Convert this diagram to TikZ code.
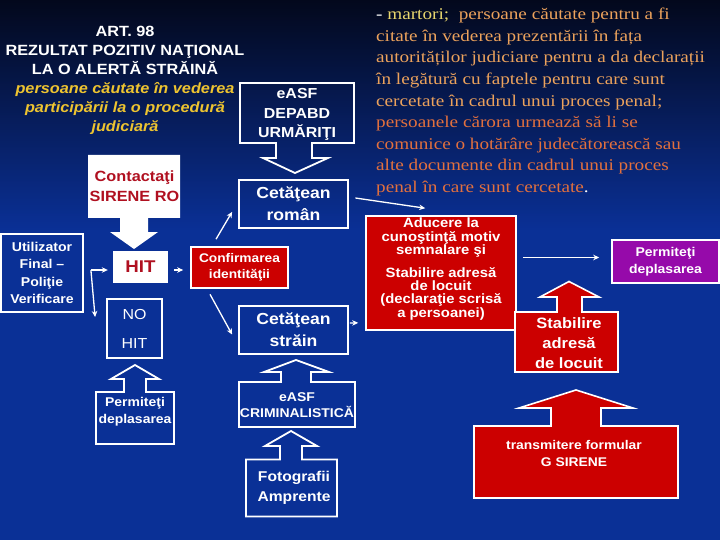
\documentclass[tikz,border=0pt]{standalone}
\usepackage{fontspec}
\setmainfont{Liberation Sans}[FakeStretch=1.1]
\newfontfamily\notefont{Liberation Serif}[FakeStretch=1.17]
\usetikzlibrary{arrows.meta,calc}
\definecolor{bgtop}{RGB}{3,8,28}
\definecolor{bgblue}{RGB}{10,48,150}
\definecolor{boxred}{RGB}{204,0,0}
\definecolor{txtred}{RGB}{176,16,32}
\definecolor{purp}{RGB}{150,10,170}
\definecolor{gold}{RGB}{238,196,48}
\definecolor{mart}{RGB}{232,214,110}
\definecolor{orL}{RGB}{236,162,92}
\definecolor{orD}{RGB}{226,112,62}
\tikzset{
  outline/.style={draw=white, line width=1.8pt, line join=miter},
  wbox/.style={outline, inner sep=0pt, align=center, text=white},
  rbox/.style={fill=boxred, draw=white, line width=1.6pt, inner sep=0pt, align=center, text=white},
  lbl/.style={align=center, text=white, inner sep=0pt},
  arr/.style={draw=white, line width=1.3pt, -{Stealth[length=6pt,width=5.5pt]}},
}
\begin{document}
\begin{tikzpicture}[x=1pt,y=-1pt]
\useasboundingbox (0,0) rectangle (720,540);
\fill[bgblue] (0,0) rectangle (720,540);
\shade[top color=bgtop, bottom color=bgblue] (0,0) rectangle (720,230);

% title
\node[lbl, font=\bfseries\fontsize{14.8}{19}\selectfont] (title) at (125,80)
  {ART. 98\\REZULTAT POZITIV NAŢIONAL\\LA O ALERTĂ STRĂINĂ\\
   \textcolor{gold}{\itshape persoane căutate în vederea}\\
   \textcolor{gold}{\itshape participării la o procedură}\\
   \textcolor{gold}{\itshape judiciară}};

% right notes
\node[anchor=west, align=left, inner sep=0pt, text=orL,
      font=\notefont\fontsize{16.4}{21.6}\selectfont] (notes) at (376,102)
  {\textcolor{white}{-} \textcolor{mart}{martori;}~ persoane căutate pentru a fi\\
   citate în vederea prezentării în fața\\
   autorităților judiciare pentru a da declarații\\
   în legătură cu faptele pentru care sunt\\
   cercetate în cadrul unui proces penal;\\
   \textcolor{orD}{persoanele cărora urmează să li se}\\
   \textcolor{orD}{comunice o hotărâre judecătorească sau}\\
   \textcolor{orD}{alte documente din cadrul unui proces}\\
   \textcolor{orD}{penal în care sunt cercetate}\textcolor{white}{.}};

% callouts
\draw[outline] (240,83) -- (354,83) -- (354,143) -- (312,143) -- (312,158) -- (328,158)
  -- (295,173) -- (263,158) -- (276,158) -- (276,143) -- (240,143) -- cycle;
\node[lbl, font=\bfseries\fontsize{14.5}{19.5}\selectfont] (depabd) at (297,114.5) {eASF\\DEPABD\\URMĂRIŢI};

\fill[white] (88,155) -- (180,155) -- (180,218) -- (148,218) -- (148,232) -- (158,232)
  -- (134,249) -- (110,232) -- (120,232) -- (120,218) -- (88,218) -- cycle;
\node[lbl, text=txtred, font=\bfseries\fontsize{14.8}{20}\selectfont] (sirene) at (134.5,186) {Contactaţi\\SIRENE RO};

\draw[outline] (96,444) -- (96,392) -- (124,392) -- (124,379) -- (111,379) -- (135,365)
  -- (159,379) -- (146,379) -- (146,392) -- (174,392) -- (174,444) -- cycle;
\node[lbl, font=\bfseries\fontsize{12.7}{17}\selectfont] (permL) at (135,411.5) {Permiteţi\\deplasarea};

\draw[outline] (239,427) -- (239,382) -- (281,382) -- (281,372) -- (264,372) -- (296,360)
  -- (329,372) -- (311,372) -- (311,382) -- (355,382) -- (355,427) -- cycle;
\node[lbl, font=\bfseries\fontsize{12.7}{16}\selectfont] (crim) at (297,405) {eASF\\CRIMINALISTICĂ};

\draw[outline] (246,516.5) -- (246,459.5) -- (280,459.5) -- (280,446) -- (265,446) -- (291,431)
  -- (317,446) -- (302,446) -- (302,459.5) -- (337,459.5) -- (337,516.5) -- cycle;
\node[lbl, font=\bfseries\fontsize{14.2}{20}\selectfont] (foto) at (294,488) {Fotografii\\Amprente};

% boxes
\node[wbox, minimum width=82pt, minimum height=78pt, font=\bfseries\fontsize{12.8}{17.3}\selectfont] (util) at (42,273) {Utilizator\\Final –\\Poliţie\\Verificare};
\node[fill=white, inner sep=0pt, minimum width=55pt, minimum height=32pt, text=txtred,
      font=\bfseries\fontsize{17}{20}\selectfont] (hit) at (140.5,267) {HIT};
\node[wbox, minimum width=55pt, minimum height=59pt, font=\fontsize{14.5}{29}\selectfont] (nohit) at (134.5,328.5) {NO\\HIT};
\node[rbox, minimum width=97pt, minimum height=41pt, font=\bfseries\fontsize{12.5}{15.7}\selectfont] (conf) at (239.5,267.5) {Confirmarea\\identităţii};
\node[wbox, minimum width=109pt, minimum height=48pt, font=\bfseries\fontsize{16}{22}\selectfont] (roman) at (293.5,204) {Cetăţean\\român};
\node[wbox, minimum width=109pt, minimum height=48pt, font=\bfseries\fontsize{16}{22}\selectfont] (strain) at (293.5,330) {Cetăţean\\străin};
\node[rbox, minimum width=150pt, minimum height=114pt] (aducere) at (441,273) {};
\node[lbl, font=\bfseries\fontsize{13.5}{13.3}\selectfont] (aduText) at (441,269)
  {Aducere la\\cunoştinţă motiv\\semnalare şi\\[9.7pt]Stabilire adresă\\de locuit\\(declaraţie scrisă\\a persoanei)};
\node[fill=purp, draw=white, line width=1.6pt, inner sep=0pt, minimum width=107pt, minimum height=43pt,
      align=center, text=white, font=\bfseries\fontsize{12.7}{17}\selectfont] (permR) at (665.5,261.5) {Permiteţi\\deplasarea};

% red callouts
\filldraw[fill=boxred, draw=white, line width=1.6pt] (515,372) -- (515,312) -- (557,312) -- (557,297)
  -- (540,297) -- (569,281.5) -- (599,297) -- (582,297) -- (582,312) -- (618,312) -- (618,372) -- cycle;
\node[lbl, font=\bfseries\fontsize{15}{20}\selectfont] (stab) at (569,343) {Stabilire\\adresă\\de locuit};

\filldraw[fill=boxred, draw=white, line width=1.6pt] (474,498) -- (474,426) -- (551,426) -- (551,408)
  -- (519,408) -- (576,390) -- (633,408) -- (601,408) -- (601,426) -- (678,426) -- (678,498) -- cycle;
\node[lbl, font=\bfseries\fontsize{12.6}{17}\selectfont] (gsirene) at (574,453.5) {transmitere formular\\G SIRENE};

% connectors
\coordinate (fork) at ([shift={(7,-3)}]util.east);
\draw[arr] (fork) -- ([shift={(-5,3)}]hit.west);
\draw[arr] (fork) -- ([shift={(-11,-11.5)}]nohit.west);
\draw[arr] ([shift={(6,3)}]hit.east) -- ([shift={(-7,2.5)}]conf.west);
\draw[arr] ([shift={(-23.5,-7)}]conf.north) -- ([shift={(-6,-17)}]roman.south west);
\draw[arr] ([shift={(-29.5,5.5)}]conf.south) -- ([shift={(-6,4.5)}]strain.west);
\draw[arr] ([shift={(6.5,-6)}]roman.east) -- ([shift={(60,-7)}]aducere.north west);
\draw[arr] ([shift={(1,-7)}]strain.east) -- ([shift={(-7,-8)}]aducere.south west);
\draw[arr] ([shift={(6.5,-15.5)}]aducere.east) -- ([shift={(-12,-4)}]permR.west);
\end{tikzpicture}
\end{document}
